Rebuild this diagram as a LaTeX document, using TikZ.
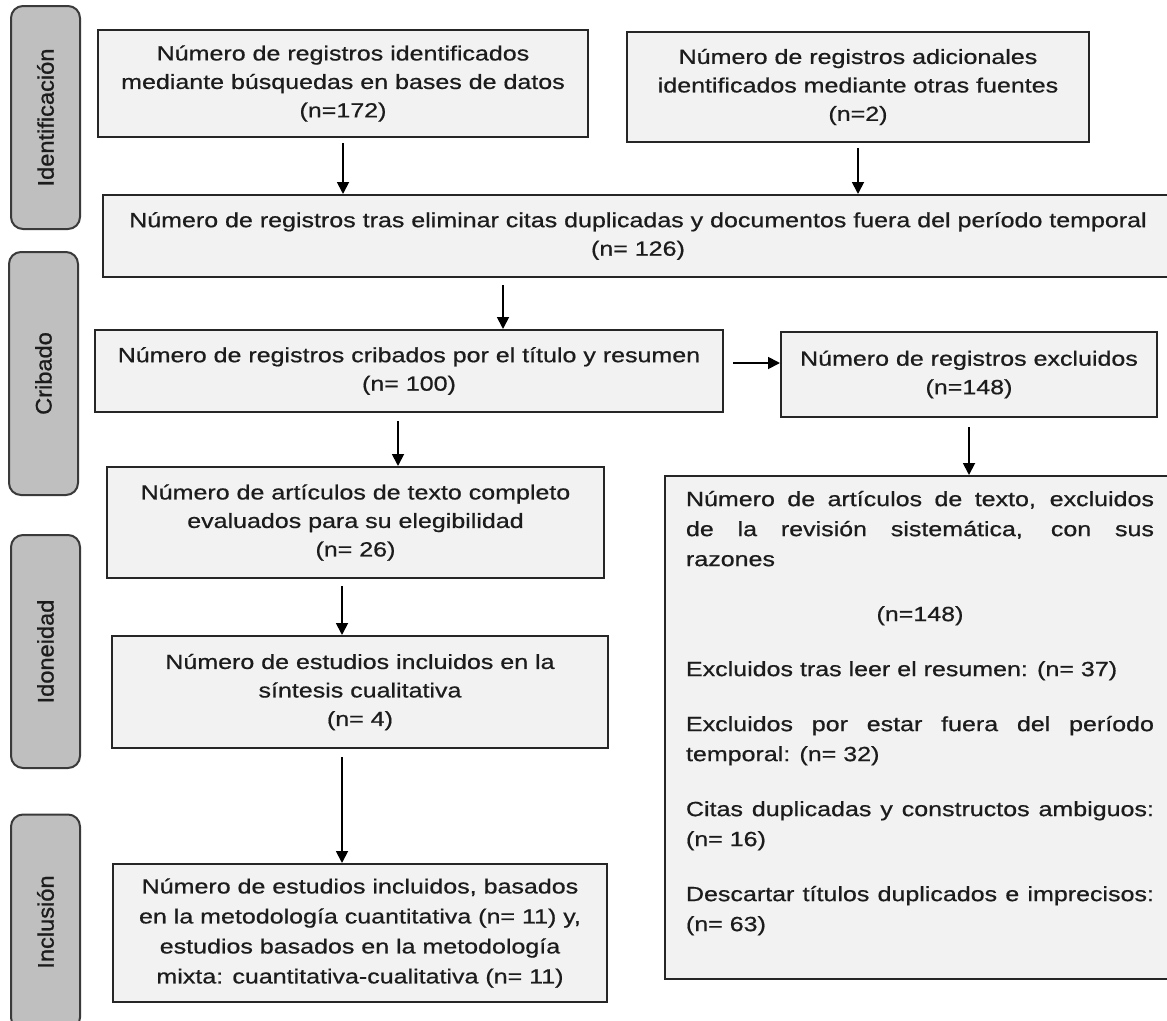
\documentclass[tikz,border=0pt]{standalone}
\usepackage{fontspec}
\setmainfont{Liberation Sans}[FakeStretch=1.22,FakeBold=0.7]
\newfontfamily\stagefont{Liberation Sans}[FakeStretch=1.05,FakeBold=1]
\usepackage{xcolor}
\usepackage{tikz}
\usetikzlibrary{arrows.meta,calc}

\definecolor{boxfill}{HTML}{F2F2F2}
\definecolor{boxline}{HTML}{262626}
\definecolor{stagefill}{HTML}{BFBFBF}
\definecolor{stageline}{HTML}{3A3A3A}
\definecolor{textcol}{HTML}{1C1C1C}

\begin{document}
\begin{tikzpicture}[x=1pt,y=-1pt,
            box/.style={draw=boxline, fill=boxfill, line width=2pt, inner sep=0pt, align=center,
                text=textcol, font=\fontsize{20.5}{28.5}\selectfont},
            stage/.style={draw=stageline, fill=stagefill, line width=2pt, rounded corners=12pt,
                rotate=90, minimum height=69, inner sep=0pt, text=textcol,
                font=\stagefont\fontsize{22.5}{26}\selectfont},
            arr/.style={line width=1.8pt, -{Triangle[length=12pt,width=12pt]}}]

            \useasboundingbox (0,0) rectangle (1167,1020);

            % etapas
            \foreach \lab/\xc/\yc/\len [count=\i] in {Identificación/45.5/117.5/223, Cribado/43.5/373.5/243,
                    Idoneidad/45.5/651.5/233, Inclusión/45.5/922/215} {
                \node[stage, minimum width=\len] (s\i) at (\xc,\yc) {\lab};
            }

            \node[box, minimum width=490, minimum height=107] (n1) at (343,83.5)
                {Número de registros identificados\\mediante búsquedas en bases de datos\\(n=172)};
            \node[box, minimum width=462, minimum height=110] (n2) at (858,87)
                {Número de registros adicionales\\identificados mediante otras fuentes\\(n=2)};
            \node[box, minimum width=1070, minimum height=82] (n3) at (638,236)
                {Número de registros tras eliminar citas duplicadas y documentos fuera del período temporal\\(n= 126)};
            \node[box, minimum width=628, minimum height=82] (n4) at (409,371)
                {Número de registros cribados por el título y resumen\\(n= 100)};
            \node[box, minimum width=376, minimum height=85] (n5) at (969,374.5)
                {Número de registros excluidos\\(n=148)};
            \node[box, minimum width=497, minimum height=111] (n6) at (355.5,522.5)
                {Número de artículos de texto completo\\evaluados para su elegibilidad\\(n= 26)};
            \node[box, minimum width=496, minimum height=112] (n7) at (360,692)
                {Número de estudios incluidos en la\\síntesis cualitativa\\(n= 4)};
            \node[box, minimum width=494, minimum height=138, font=\fontsize{20.5}{30}\selectfont] (n8) at (360,933)
                {Número de estudios incluidos, basados\\en la metodología cuantitativa (n= 11) y,\\estudios basados en la metodología\\mixta: cuantitativa-cualitativa (n= 11)};
            \node[box, anchor=north west, inner xsep=21pt, inner ysep=0pt, align=left,
                font=\fontsize{20.5}{30}\selectfont] (n9) at (664,475)
                {\parbox[t][503pt][t]{468pt}{\setlength{\parindent}{0pt}\setlength{\parskip}{25pt}%
                \vspace*{-10pt}%
                Número de artículos de texto, excluidos\linebreak de la revisión sistemática, con sus\linebreak razones\par
                {\centering (n=148)\par}
                Excluidos tras leer el resumen: (n= 37)\par
                Excluidos por estar fuera del período\linebreak temporal: (n= 32)\par
                Citas duplicadas y constructos ambiguos:\linebreak (n= 16)\par
                Descartar títulos duplicados e imprecisos:\linebreak (n= 63)}};

            \coordinate (c3) at ($(n3.south)+(-135,7)$);
            \coordinate (c4) at ($(n4.east)+(9,-8)$);
            \coordinate (c6) at ($(n4.south)+(-11,8)$);
            \coordinate (c7) at ($(n6.south)+(-13.5,7)$);
            \coordinate (c8) at ($(n7.south)+(-18,8)$);

            \draw[arr] ([yshift=-5pt]n1.south) -- (n1.south |- n3.north);
            \draw[arr] ([yshift=-5pt]n2.south) -- (n2.south |- n3.north);
            \draw[arr] (c3) -- (c3 |- n4.north);
            \draw[arr] (c4) -- (c4 -| n5.west);
            \draw[arr] ([yshift=-9pt]n5.south) -- (n5.south |- n9.north);
            \draw[arr] (c6) -- (c6 |- n6.north);
            \draw[arr] (c7) -- (c7 |- n7.north);
            \draw[arr] (c8) -- (c8 |- n8.north);
        \end{tikzpicture}
\end{document}
